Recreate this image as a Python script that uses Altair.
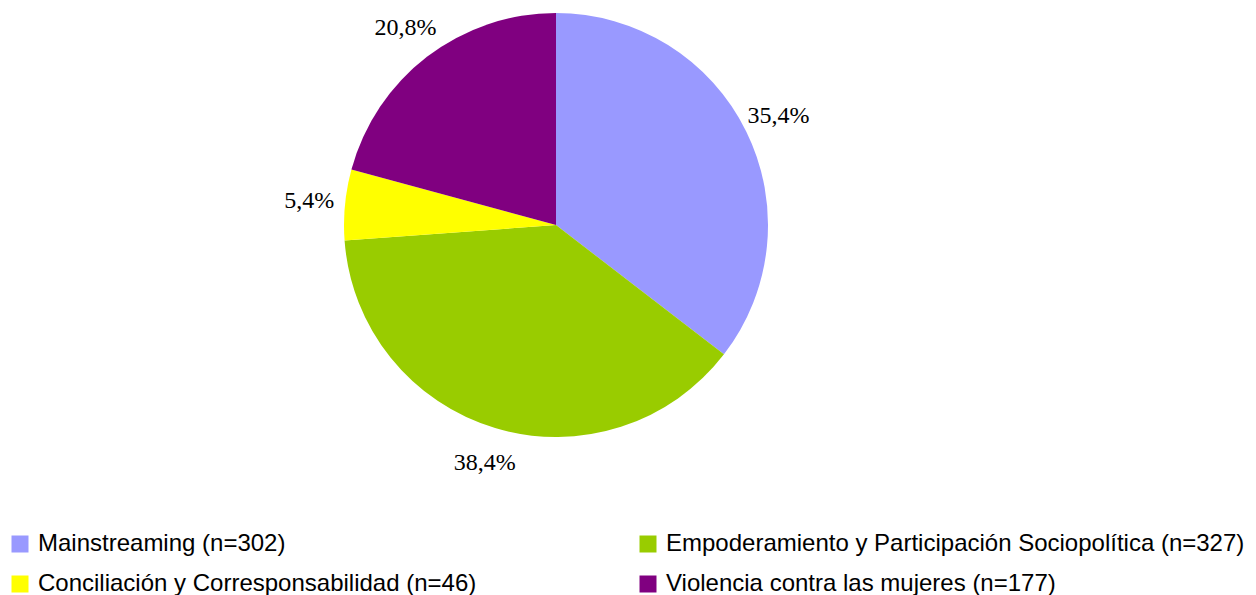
import altair as alt
import pandas as pd

categories = [
    "Mainstreaming (n=302)",
    "Empoderamiento y Participación Sociopolítica (n=327)",
    "Conciliación y Corresponsabilidad (n=46)",
    "Violencia contra las mujeres (n=177)",
]
counts = [302, 327, 46, 177]
colors = ["#9999FF", "#99CC00", "#FFFF00", "#800080"]
# legend reading order (two columns, filled column by column)
legend_order = [0, 2, 1, 3]

total = sum(counts)
labels = [f"{c / total * 100:.1f}%".replace(".", ",") for c in counts]

df = pd.DataFrame({
    "cat": categories,
    "n": counts,
    "label": labels,
    "idx": list(range(len(categories))),
})

color_scale = alt.Scale(
    domain=[categories[i] for i in legend_order],
    range=[colors[i] for i in legend_order],
)

base = alt.Chart(df).encode(
    theta=alt.Theta("n:Q", stack=True),
    order=alt.Order("idx:Q"),
)

pie = base.mark_arc(outerRadius=212, stroke=None).encode(
    x=alt.value(548),
    y=alt.value(217),
    color=alt.Color(
        "cat:N",
        scale=color_scale,
        legend=alt.Legend(
            title=None,
            orient="none",
            legendX=0,
            legendY=524,
            columns=2,
            columnPadding=159,
            rowPadding=16,
            symbolType="square",
            symbolSize=289,
            symbolStrokeWidth=0,
            labelFont="Liberation Sans",
            labelFontSize=24,
            labelColor="#000000",
            labelOffset=6,
            labelLimit=0,
        ),
    ),
)

text = base.mark_text(
    font="Liberation Serif", fontSize=24, color="#000000",
    align="center", baseline="middle",
).encode(
    x=alt.value(548),
    y=alt.value(217),
    radius=alt.value(248),
    text="label:N",
)

chart = alt.layer(pie, text).properties(
    width=1240,
    height=587,
    autosize=alt.AutoSizeParams(type="none"),
    padding=0,
    background="white",
).configure_view(stroke=None)

chart.save("out.html", embed_options={"renderer": "svg", "actions": False})
